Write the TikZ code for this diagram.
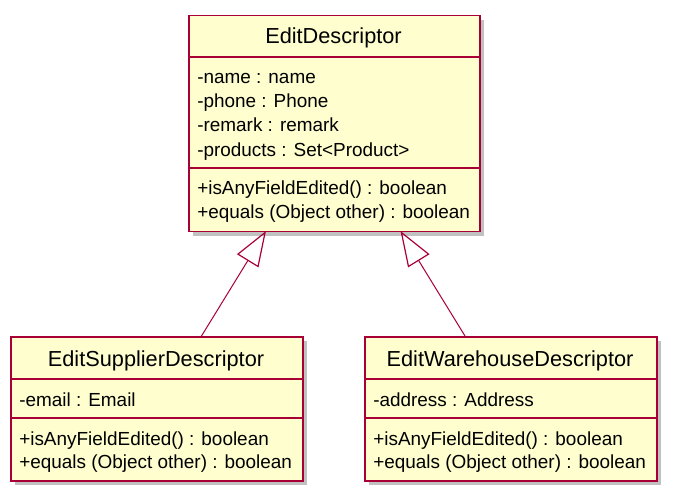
\documentclass[tikz,border=0pt]{standalone}
\usepackage{fontspec}
\setmainfont{Liberation Sans}
\usetikzlibrary{arrows.meta,shadows}
\definecolor{umlfill}{HTML}{FEFECE}
\definecolor{umlline}{HTML}{A80036}
\tikzset{
  classbox/.style={draw=umlline, fill=umlfill, line width=1.125pt, rectangle, inner sep=0pt, anchor=north west,
     drop shadow={shadow xshift=3pt, shadow yshift=-3pt, opacity=0.35, fill=black!70}},
  sepline/.style={draw=umlline, line width=1.125pt},
  ctitle/.style={anchor=base, inner sep=0pt, font=\fontsize{16.3pt}{19pt}\selectfont},
  cmember/.style={anchor=base west, inner sep=0pt, font=\fontsize{14.2pt}{17pt}\selectfont},
  inherit/.style={draw=umlline, line width=0.75pt, -{Triangle[open, length=26.25pt, width=18.75pt, line width=0.9pt]}},
}
\begin{document}
\begin{tikzpicture}[x=0.75pt,y=-0.75pt]
\useasboundingbox (0,0) rectangle (673,498);
% EditDescriptor
\node[classbox, minimum width=218.25pt, minimum height=162pt] (ed) at (188,15) {};
\draw[sepline] (188,57) -- (479,57);
\draw[sepline] (188,168) -- (479,168);
\node[ctitle] (edt) at (333.5,44) {EditDescriptor};
\node[cmember] (ed1) at (197,84) {-name : name};
\node[cmember] (ed2) at (197,108) {-phone : Phone};
\node[cmember] (ed3) at (197,132) {-remark : remark};
\node[cmember] (ed4) at (197,157) {-products : Set<Product>};
\node[cmember] (ed5) at (197,195) {+isAnyFieldEdited() : boolean};
\node[cmember] (ed6) at (197,219) {+equals (Object other) : boolean};
% EditSupplierDescriptor
\node[classbox, minimum width=219pt, minimum height=108pt] (es) at (10,336) {};
\draw[sepline] (10,379) -- (302,379);
\draw[sepline] (10,418) -- (302,418);
\node[ctitle] (est) at (156,366.5) {EditSupplierDescriptor};
\node[cmember] (es1) at (19,406.5) {-email : Email};
\node[cmember] (es2) at (19,445) {+isAnyFieldEdited() : boolean};
\node[cmember] (es3) at (19,468.5) {+equals (Object other) : boolean};
% EditWarehouseDescriptor
\node[classbox, minimum width=219pt, minimum height=108pt] (ew) at (364,336) {};
\draw[sepline] (364,379) -- (656,379);
\draw[sepline] (364,418) -- (656,418);
\node[ctitle] (ewt) at (510,366.5) {EditWarehouseDescriptor};
\node[cmember] (ew1) at (373,406.5) {-address : Address};
\node[cmember] (ew2) at (373,445) {+isAnyFieldEdited() : boolean};
\node[cmember] (ew3) at (373,468.5) {+equals (Object other) : boolean};
% connectors
\coordinate (esTop) at (201.5,336);
\coordinate (ewTop) at (465,336);
\coordinate (edL) at (266,231);
\coordinate (edR) at (400.5,231);
\draw[inherit] (esTop) -- (edL);
\draw[inherit] (ewTop) -- (edR);
\end{tikzpicture}
\end{document}
